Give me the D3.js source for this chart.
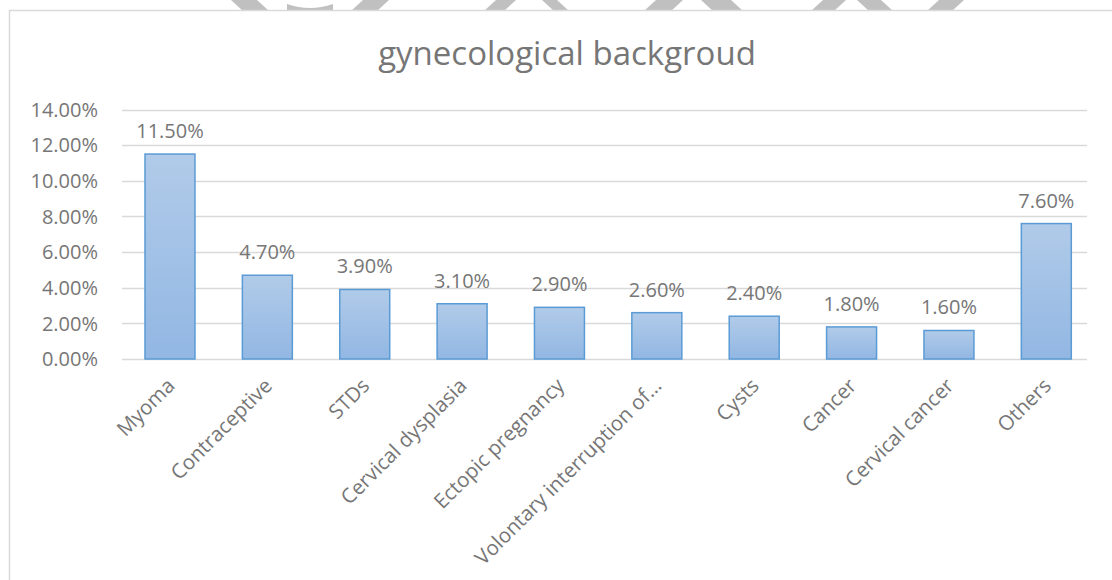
<!DOCTYPE html>
<html>
<head>
<meta charset="utf-8">
<script src="https://cdn.jsdelivr.net/npm/d3@7"></script>
<style>
  body { margin: 0; background: #fff; }
  svg { display: block; font-family: "Open Sans", "Noto Sans", sans-serif; }
</style>
</head>
<body>
<svg id="chart" width="1112" height="580"></svg>
<script>
const categories = ['Myoma', 'Contraceptive', 'STDs', 'Cervical dysplasia', 'Ectopic pregnancy',
  'Volontary interruption of\u2026', 'Cysts', 'Cancer', 'Cervical cancer', 'Others']
const values = [11.5, 4.7, 3.9, 3.1, 2.9, 2.6, 2.4, 1.8, 1.6, 7.6]
const yTicks = [0, 2, 4, 6, 8, 10, 12, 14]
const title = 'gynecological backgroud'

const width = 1112, height = 580
const padding = { top: 109.5, bottom: 221, left: 121.3, right: 17 }
const gridRight = 1087
const svg = d3.select('#chart')
const textColor = '#767676'

// faint watermark strokes peeking above the chart frame
const wm = svg.append('g').attr('fill', '#c0c0c0')
const wmBits = [[237, 263, 1], [357, 383, -1], [490, 510, -1], [548, 563, 1], [650, 677, -1],
  [707, 737, 1], [817, 840, -1], [863, 887, 1], [933, 958, -1]]
wmBits.forEach(([a, b, s]) => {
  const k = 6 * s
  wm.append('path').attr('d', `M${a - k},0 L${b - k},0 L${b + k},11 L${a + k},11 Z`)
})
wm.append('path').attr('d', 'M287,4 Q310,12 333,4 L333,11 L287,11 Z')

// chart frame
svg.append('rect')
  .attr('x', 9.5).attr('y', 10.5)
  .attr('width', width + 20).attr('height', height + 20)
  .attr('fill', '#fff').attr('stroke', '#d9d9d9').attr('stroke-width', 1.5)

const defs = svg.append('defs')
const grad = defs.append('linearGradient').attr('id', 'barGrad')
  .attr('x1', 0).attr('y1', 0).attr('x2', 0).attr('y2', 1)
grad.append('stop').attr('offset', '0%').attr('stop-color', '#b1cbe9')
grad.append('stop').attr('offset', '100%').attr('stop-color', '#92b7e3')

const pIn = 1 - 50 / 97.4
const scaleX = d3.scaleBand()
  .domain(categories)
  .range([padding.left, width - padding.right])
  .paddingInner(pIn)
  .paddingOuter(pIn / 2)
const scaleY = d3.scaleLinear()
  .domain([0, 14])
  .range([height - padding.bottom, padding.top])

svg.append('text')
  .attr('x', 567).attr('y', 65)
  .attr('text-anchor', 'middle')
  .attr('fill', textColor)
  .attr('font-size', 33)
  .text(title)

// gridlines + y labels
const grid = svg.append('g')
grid.selectAll('line').data(yTicks).join('line')
  .attr('x1', 122).attr('x2', gridRight)
  .attr('y1', d => Math.round(scaleY(d)) + 0.5).attr('y2', d => Math.round(scaleY(d)) + 0.5)
  .attr('stroke', '#d9d9d9').attr('stroke-width', 1.5)
grid.selectAll('text').data(yTicks).join('text')
  .attr('x', 98).attr('y', d => scaleY(d))
  .attr('dy', '0.36em')
  .attr('text-anchor', 'end')
  .attr('fill', textColor)
  .attr('font-size', 20)
  .text(d => d.toFixed(2) + '%')

// bars
svg.append('g').selectAll('rect').data(values).join('rect')
  .attr('x', (d, i) => scaleX(categories[i]))
  .attr('y', d => scaleY(d))
  .attr('width', scaleX.bandwidth())
  .attr('height', d => scaleY(0) - scaleY(d))
  .attr('fill', 'url(#barGrad)')
  .attr('stroke', '#5b9bd5')
  .attr('stroke-width', 1.5)

// value labels
svg.append('g').selectAll('text').data(values).join('text')
  .attr('x', (d, i) => scaleX(categories[i]) + scaleX.bandwidth() / 2)
  .attr('y', d => scaleY(d) - 16)
  .attr('text-anchor', 'middle')
  .attr('fill', textColor)
  .attr('font-size', 20)
  .text(d => d.toFixed(2) + '%')

// x labels rotated
svg.append('g').selectAll('text').data(categories).join('text')
  .attr('transform', d => `translate(${scaleX(d) + scaleX.bandwidth() / 2 + 6},${scaleY(0) + 28}) rotate(-45)`)
  .attr('text-anchor', 'end')
  .attr('fill', textColor)
  .attr('font-size', 20.5)
  .text(d => d)
</script>
</body>
</html>
